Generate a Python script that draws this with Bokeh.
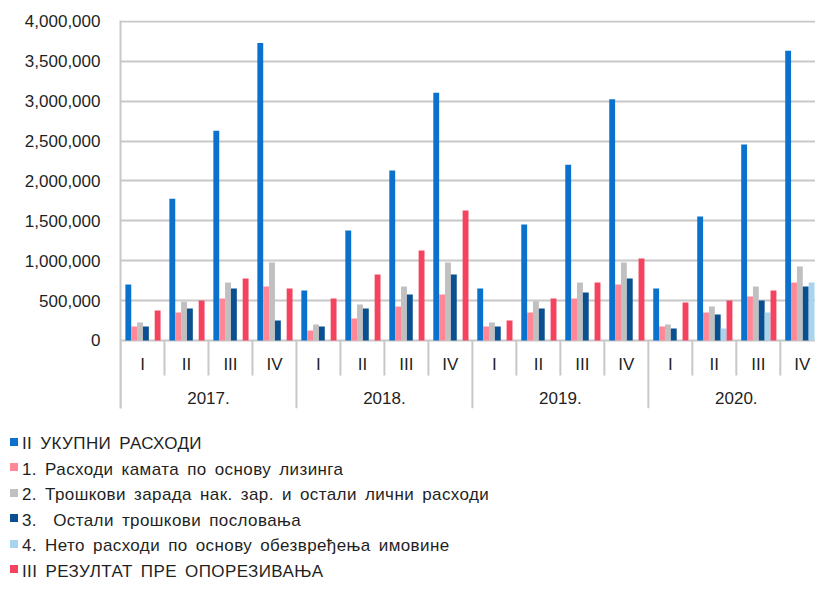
import numpy as np
from bokeh.plotting import figure
from bokeh.layouts import column
from bokeh.models import (Range1d, FixedTicker, NumeralTickFormatter, ColumnDataSource, Div)
from bokeh.core.properties import value
from bokeh.embed import file_html
from bokeh.resources import INLINE

# ---------------- data ----------------
years = ["2017.", "2018.", "2019.", "2020."]
quarters = ["I", "II", "III", "IV"]

series_names = [
    "II УКУПНИ РАСХОДИ",
    "1. Расходи камата по основу лизинга",
    "2. Трошкови зарада нак. зар. и остали лични расходи",
    "3.  Остали трошкови пословања",
    "4. Нето расходи по основу обезвређења имовине",
    "III РЕЗУЛТАТ ПРЕ ОПОРЕЗИВАЊА",
]

ukupni_rashodi = [702000, 1777000, 2629000, 3729000, 627000, 1379000, 2132000, 3106000,
                  652000, 1455000, 2203000, 3026000, 652000, 1555000, 2458000, 3632000]
kamate_lizing = [176000, 351000, 527000, 677000, 125000, 276000, 426000, 577000,
                 176000, 351000, 527000, 702000, 176000, 351000, 552000, 727000]
troskovi_zarada = [226000, 485000, 727000, 978000, 200000, 451000, 677000, 978000,
                   226000, 493000, 727000, 978000, 200000, 426000, 677000, 928000]
ostali_troskovi = [176000, 401000, 652000, 251000, 176000, 401000, 577000, 828000,
                   176000, 401000, 602000, 777000, 150000, 326000, 502000, 677000]
obezvredjenje = [0, 0, 0, 0, 0, 0, 0, 0,
                 0, 0, 0, 0, 0, 150000, 351000, 727000]
rezultat = [376000, 502000, 777000, 652000, 527000, 828000, 1129000, 1630000,
            251000, 527000, 727000, 1028000, 477000, 502000, 627000, float("nan")]

y_ticks = [0, 500000, 1000000, 1500000, 2000000, 2500000, 3000000, 3500000, 4000000]

all_series = [ukupni_rashodi, kamate_lizing, troskovi_zarada, ostali_troskovi, obezvredjenje, rezultat]
colors = ["#0A72CC", "#FF8796", "#C0C0C0", "#0A5090", "#A8D4EE", "#F5435F"]

FONT = "Liberation Sans"
GRID = "#C8C8C8"
TXT = "#1F1F1F"

n_q = len(quarters)
n_cat = len(years) * n_q

p = figure(width=815, height=410, output_backend="svg", toolbar_location=None,
           x_range=Range1d(0, 15.8), y_range=Range1d(-852700, 4012500),
           min_border_left=120, min_border_right=0, min_border_top=20, min_border_bottom=2)
p.outline_line_color = None
p.background_fill_color = "white"
p.border_fill_color = "white"

# bars
slot_w = 6.0 / 45.0
inset = 5.0 / 45.0
idx = np.arange(n_cat)
for k, (vals, col) in enumerate(zip(all_series, colors)):
    src = ColumnDataSource(dict(x=idx + inset + (k + 0.5) * slot_w, top=vals))
    p.vbar(x="x", top="top", bottom=0, width=slot_w, source=src,
           fill_color=col, line_color=None)

# category separators below the zero line
short_x = [float(j) for j in range(1, n_cat) if j % n_q != 0]
long_x = [float(j) for j in range(0, n_cat + 1, n_q)]
p.segment(x0=short_x, y0=[0] * len(short_x), x1=short_x, y1=[-440000] * len(short_x),
          line_color=GRID, line_width=2)
p.segment(x0=long_x, y0=[0] * len(long_x), x1=long_x, y1=[-852700] * len(long_x),
          line_color=GRID, line_width=2)

# category labels
q_labels = [quarters[i % n_q] for i in range(n_cat)]
p.text(x=idx + 0.5, y=[-300000] * n_cat, text=q_labels, text_align="center",
       text_baseline="middle", text_font=value(FONT), text_font_size=value("17px"),
       text_color=TXT)
y_centers = [i * n_q + n_q / 2 for i in range(len(years))]
p.text(x=y_centers, y=[-727000] * len(years), text=years, text_align="center",
       text_baseline="middle", text_font=value(FONT), text_font_size=value("17px"),
       text_color=TXT)

# axes
p.xaxis.visible = False
p.xgrid.visible = False
p.yaxis.ticker = FixedTicker(ticks=y_ticks)
p.yaxis.formatter = NumeralTickFormatter(format="0,0")
p.yaxis.major_tick_line_color = None
p.yaxis.minor_tick_line_color = None
p.yaxis.major_label_standoff = 14
p.yaxis.axis_line_color = GRID
p.yaxis.axis_line_width = 2
p.yaxis.major_label_text_font = FONT
p.yaxis.major_label_text_font_size = "17px"
p.yaxis.major_label_text_color = TXT
p.ygrid.ticker = FixedTicker(ticks=y_ticks)
p.ygrid.grid_line_color = GRID
p.ygrid.grid_line_width = 2

# legend below the chart (left-aligned, one entry per line)
rows = []
for name, col in zip(series_names, colors):
    rows.append(
        '<div style="height:25.5px;line-height:25.5px;white-space:pre;">'
        f'<span style="display:inline-block;width:8px;height:8px;background:{col};'
        'margin-right:4px;vertical-align:middle;position:relative;top:-3px;"></span>'
        f'{name}</div>'
    )
legend_html = (
    f'<div style="box-sizing:border-box;height:169px;overflow:hidden;padding:21px 0 0 10px;'
    f'font-family:\'{FONT}\';font-size:17px;'
    f'color:{TXT};letter-spacing:0.4px;word-spacing:3px;">' + "".join(rows) + "</div>"
)
legend_div = Div(text=legend_html, width=815, height=169, margin=(0, 0, 0, 0))

layout = column(p, legend_div, spacing=0)
open("out.html", "w").write(file_html(layout, INLINE))
